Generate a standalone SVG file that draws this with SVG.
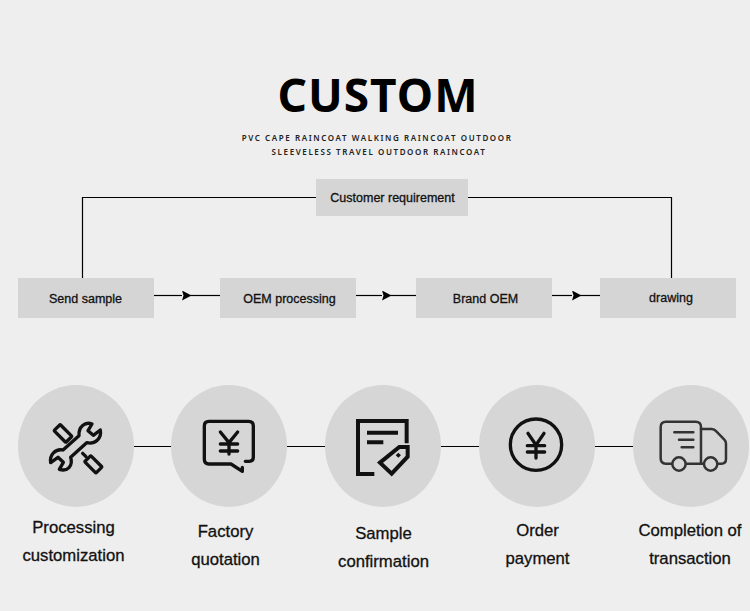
<svg xmlns="http://www.w3.org/2000/svg" width="750" height="611" viewBox="0 0 750 611">
<style>
.box{fill:#d5d5d5}
.circ{fill:#d6d6d6}
.ln{fill:none;stroke:#000;stroke-width:1.2}
.lab{font-family:"Liberation Sans",Arial,sans-serif;font-size:12.5px;fill:#111;text-anchor:middle;stroke:#111;stroke-width:.3}
.cap{font-family:"Liberation Sans",Arial,sans-serif;font-size:16.700px;fill:#111;text-anchor:middle;stroke:#111;stroke-width:.3}
.sub{font-family:"Noto Sans",sans-serif;font-size:8px;font-weight:600;letter-spacing:1.6px;fill:#222;text-anchor:middle}
.ic{fill:none;stroke:#111;stroke-width:10;stroke-linejoin:round;stroke-linecap:round}
.ic2{fill:none;stroke:#111;stroke-width:12;stroke-linejoin:miter;stroke-linecap:butt}
.ic3{fill:none;stroke:#333;stroke-width:7.5;stroke-linejoin:round;stroke-linecap:round}
</style>
<defs>
<marker id="arr" markerUnits="userSpaceOnUse" markerWidth="10" markerHeight="10" refX="0" refY="5" orient="auto"><path d="M0 0L9.500 5L0 10L1.500 5Z" fill="#000"/></marker>
</defs>
<rect width="750" height="611" fill="#eeeeee"/>
<g id="title">
<text x="378" y="112" font-family="'Noto Sans',sans-serif" font-size="46" font-weight="700" fill="#000" text-anchor="middle" letter-spacing="1">CUSTOM</text>
<text class="sub" x="377" y="141">PVC CAPE RAINCOAT WALKING RAINCOAT OUTDOOR</text>
<text class="sub" x="379" y="155">SLEEVELESS TRAVEL OUTDOOR RAINCOAT</text>
</g>
<g id="connectors">
<path class="ln" d="M316 197.500H82.500V278"/>
<path class="ln" d="M468 197.500H671.500V278"/>
<path class="ln" d="M154 295.500H182" marker-end="url(#arr)"/><path class="ln" d="M190 295.500H220"/>
<path class="ln" d="M356 295.500H382" marker-end="url(#arr)"/><path class="ln" d="M390 295.500H416"/>
<path class="ln" d="M552 295.500H572" marker-end="url(#arr)"/><path class="ln" d="M580 295.500H600"/>
<path class="ln" d="M134 446.500H171M287 446.500H325M441 446.500H479M595 446.500H633"/>
</g>
<g id="node-customer"><rect class="box" x="316" y="179" width="152" height="37"/><text class="lab" x="392.500" y="202">Customer requirement</text></g>
<g id="node-send"><rect class="box" x="18" y="278" width="136" height="40"/><text class="lab" x="85.500" y="303">Send sample</text></g>
<g id="node-oem"><rect class="box" x="220" y="278" width="136" height="40"/><text class="lab" x="289.500" y="303">OEM processing</text></g>
<g id="node-brand"><rect class="box" x="416" y="278" width="136" height="40"/><text class="lab" x="485.500" y="303">Brand OEM</text></g>
<g id="node-drawing"><rect class="box" x="600" y="278" width="136" height="40"/><text class="lab" x="671" y="302">drawing</text></g>

<g id="step-processing">
<ellipse class="circ" cx="76" cy="446" rx="58" ry="61"/>
<g transform="translate(30 400) scale(.3333)">
<path class="ic" d="M186 72C165 64 145 80 147 107L99 150C76 145 58 165 62 188L84 172L100 187L88 208C112 216 130 198 122 172L170 128C195 134 216 115 211 90L190 106L174 92Z"/>
<rect class="ic" x="75" y="87" width="50" height="26" rx="3" transform="rotate(45 99 99)"/>
<rect class="ic" x="166" y="180" width="48" height="26" rx="3" transform="rotate(45 190 193)"/>
<path class="ic" d="M158 160L168 170"/>
</g>
<text class="cap" x="73.500" y="533">Processing</text><text class="cap" x="73.500" y="561">customization</text>
</g>
<g id="step-factory">
<ellipse class="circ" cx="229" cy="446" rx="58" ry="61"/>
<g transform="translate(185 400) scale(.3333)">
<path class="ic" d="M181 184H193Q205 184 205 172V78Q205 64 191 64H72Q58 64 58 78V178Q58 192 72 192H138L172 214V202"/>
<path class="ic" d="M106 96L132 128L158 96M106 132H158M106 153H158M132 128V162"/>
</g>
<text class="cap" x="225.500" y="537">Factory</text><text class="cap" x="225.500" y="565">quotation</text>
</g>
<g id="step-sample">
<ellipse class="circ" cx="383" cy="446" rx="58" ry="61"/>
<g transform="translate(340 400) scale(.3333)">
<path class="ic2" d="M200 130V63H54V222H103"/>
<path class="ic2" d="M81 98H174M81 127H130"/>
<path class="ic2" d="M120 188L178 141H203V170L155 221Z"/>
<rect x="170" y="160" width="11" height="11" fill="#111" transform="rotate(45 175 165)"/>
</g>
<text class="cap" x="383.500" y="539">Sample</text><text class="cap" x="383.500" y="567">confirmation</text>
</g>
<g id="step-order">
<ellipse class="circ" cx="537" cy="446" rx="58" ry="61"/>
<g transform="translate(490 400) scale(.3333)">
<circle cx="138" cy="134" r="77" fill="none" stroke="#111" stroke-width="10"/>
<path class="ic" d="M114 100L138 135L162 100M112 137H164M112 156H164M138 135V174" />
</g>
<text class="cap" x="537.500" y="536">Order</text><text class="cap" x="537.500" y="564">payment</text>
</g>
<g id="step-completion">
<ellipse class="circ" cx="691" cy="446" rx="58" ry="61"/>
<g transform="translate(645 405) scale(.3333)">
<path class="ic3" d="M80 176H62Q47 176 47 160V66Q47 50 63 50H152Q168 50 168 66V176H125"/>
<path class="ic3" d="M168 72H200Q208 72 214 79L238 104Q243 109 243 116V162Q243 176 229 176H221M175 176H168"/>
<circle class="ic3" cx="102" cy="177" r="20"/><circle class="ic3" cx="197" cy="177" r="20"/>
<path class="ic3" d="M88 82H145M102 104H145M110 127H145"/>
</g>
<text class="cap" x="690" y="536">Completion of</text><text class="cap" x="690" y="564">transaction</text>
</g>
</svg>
